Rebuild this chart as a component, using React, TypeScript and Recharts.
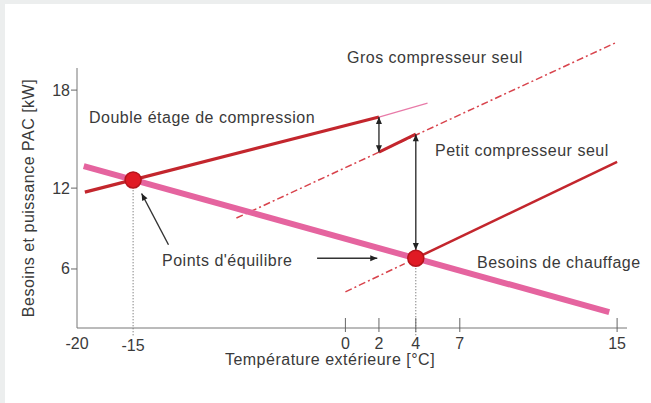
import React from 'react';
import {
  ComposedChart,
  Line,
  Scatter,
  XAxis,
  YAxis,
  ReferenceLine,
  Customized,
} from 'recharts';

// axis stops: the original schematic has uneven spacing between ticks
const xTickValues = [-20, -15, 0, 2, 4, 7, 15];
const xTickPlace = [0, 0.102, 0.488, 0.549, 0.616, 0.696, 0.982];
const yTickValues = [6, 12, 18];
const yTickPlace = [0.227, 0.538, 0.915];

// series, in [temperature °C, power kW]
const heatingNeeds = [[-19.4, 13.35], [14.6, 2.8]];
const doubleStage = [[-19.3, 11.7], [2, 16.35]];
const doubleStageExtension = [[2, 16.35], [4.8, 17.2]];
const smallCompressor = [[2, 14.2], [4, 15.3]];
const smallCompressorHigh = [[4, 6.8], [15, 13.6]];
const bigCompressorAlone = [[-7.7, 9.78], [15, 20.94]];
const smallCompressorAlone = [[0, 4.3], [3.4, 6.4]];
const equilibriumPoints = [[-15, 12.5], [4, 6.8]];

// annotation arrows [from, to]
const stepArrow = [[2, 16.35], [2, 14.2]];
const switchArrow = [[4, 15.3], [4, 7.4]];
const pointerArrows = [
  [[-12.5, 7.8], [-14.4, 11.6]],
  [[-2.0, 6.8], [1.9, 6.8]],
];

const FONT = '"Liberation Sans", Arial, sans-serif';
const TEXT = '#3a3a3a';
const PINK = '#e5649f';
const RED = '#c3262d';

const warp = (v: number, stops: number[], place: number[]) => {
  let i = 0;
  if (v >= stops[stops.length - 1]) i = stops.length - 2;
  else {
    while (i < stops.length - 2 && v > stops[i + 1]) i++;
  }
  const t = (v - stops[i]) / (stops[i + 1] - stops[i]);
  return place[i] + t * (place[i + 1] - place[i]);
};
const wx = (v: number) => warp(v, xTickValues, xTickPlace);
const wy = (v: number) => warp(v, yTickValues, yTickPlace);
const toPts = (arr: number[][]) => arr.map(([x, y]) => ({ x: wx(x), y: wy(y) }));

const closestLabel = (v: number, place: number[], values: number[]) => {
  let best = 0;
  place.forEach((p, i) => {
    if (Math.abs(p - v) < Math.abs(place[best] - v)) best = i;
  });
  return values[best];
};

const XTick = ({ x, y, payload }: any) => {
  const label = closestLabel(payload.value, xTickPlace, xTickValues);
  const showMark = label >= 0;
  return (
    <g>
      {showMark && <line x1={x} x2={x} y1={y - 10} y2={y + 4} stroke="#666" />}
      <text
        x={x}
        y={label === -15 ? y + 17 : y + 15}
        textAnchor="middle"
        dominantBaseline="central"
        fontFamily={FONT}
        fontSize={16}
        fill={TEXT}
      >
        {label}
      </text>
    </g>
  );
};

const YTick = ({ x, y, payload }: any) => {
  const label = closestLabel(payload.value, yTickPlace, yTickValues);
  return (
    <g>
      <line x1={x - 6} x2={x} y1={y} y2={y} stroke="#666" />
      <text
        x={x - 7}
        y={y}
        textAnchor="end"
        dominantBaseline="central"
        fontFamily={FONT}
        fontSize={16}
        fill={TEXT}
      >
        {label}
      </text>
    </g>
  );
};

const arrowHead = (x: number, y: number, ang: number, key: string) => {
  const len = 7;
  const half = 3;
  const bx = x - len * Math.cos(ang);
  const by = y - len * Math.sin(ang);
  const px = -Math.sin(ang) * half;
  const py = Math.cos(ang) * half;
  return (
    <polygon
      key={key}
      points={`${x},${y} ${bx + px},${by + py} ${bx - px},${by - py}`}
      fill="#222"
    />
  );
};

const ArrowShape = ({ x1, y1, x2, y2, both }: any) => {
  const ang = Math.atan2(y2 - y1, x2 - x1);
  return (
    <g>
      <line x1={x1} y1={y1} x2={x2} y2={y2} stroke="#333" strokeWidth={1.4} />
      {arrowHead(x2, y2, ang, 'end')}
      {both && arrowHead(x1, y1, ang + Math.PI, 'start')}
    </g>
  );
};

const annotations = [
  { text: 'Gros compresseur seul', x: 347, y: 57 },
  { text: 'Double étage de compression', x: 89, y: 117 },
  { text: 'Petit compresseur seul', x: 435, y: 150 },
  { text: 'Besoins de chauffage', x: 477, y: 262 },
  { text: "Points d'équilibre", x: 162, y: 260 },
];

const Texts = () => (
  <g fontFamily={FONT} fontSize={16} fill={TEXT} letterSpacing={0.5}>
    {annotations.map((a) => (
      <text key={a.text} x={a.x} y={a.y} dominantBaseline="central">
        {a.text}
      </text>
    ))}
    <text x={330} y={359} textAnchor="middle" dominantBaseline="central">
      Température extérieure [°C]
    </text>
    <text
      x={28}
      y={198}
      textAnchor="middle"
      dominantBaseline="central"
      transform="rotate(-90 28 198)"
    >
      Besoins et puissance PAC [kW]
    </text>
  </g>
);

const Dot = ({ cx, cy }: any) => (
  <circle cx={cx} cy={cy} r={8} fill="#e01a24" stroke="#b5141c" strokeWidth={1.5} />
);

export default function App() {
  return (
    <div style={{ position: 'relative', width: 651, height: 403, background: '#eceeee' }}>
      <style>{'body{margin:0}'}</style>
      <div
        style={{ position: 'absolute', left: 5, top: 4, width: 646, height: 399, background: '#fff' }}
      />
      <div style={{ position: 'absolute', left: 0, top: 0 }}>
        <ComposedChart width={651} height={403} margin={{ top: 42, right: 24, bottom: 0, left: 0 }}>
          <XAxis
            type="number"
            dataKey="x"
            domain={[0, 1]}
            ticks={xTickPlace}
            interval={0}
            height={75}
            tickSize={0}
            tickMargin={0}
            tick={<XTick />}
            axisLine={{ stroke: '#777' }}
            allowDataOverflow
          />
          <YAxis
            type="number"
            dataKey="y"
            domain={[0, 1.1]}
            ticks={yTickPlace}
            interval={0}
            width={77}
            tickSize={0}
            tickMargin={0}
            tick={<YTick />}
            axisLine={false}
            allowDataOverflow
          />
          <ReferenceLine
            segment={[{ x: 0, y: 0 }, { x: 0, y: 1 }]}
            stroke="#777"
            ifOverflow="visible"
          />
          <ReferenceLine
            segment={[{ x: wx(-15), y: -0.028 }, { x: wx(-15), y: wy(12.5) }]}
            stroke="#555"
            strokeDasharray="1 2"
            ifOverflow="visible"
          />
          <ReferenceLine
            segment={[{ x: wx(4), y: -0.028 }, { x: wx(4), y: wy(6.8) }]}
            stroke="#555"
            strokeDasharray="1 2"
            ifOverflow="visible"
          />
          <Line data={toPts(bigCompressorAlone)} dataKey="y" stroke="#d8434c" strokeWidth={1.5}
            strokeDasharray="7 3 2 3" dot={false} activeDot={false} isAnimationActive={false} />
          <Line data={toPts(smallCompressorAlone)} dataKey="y" stroke="#d8434c" strokeWidth={1.5}
            strokeDasharray="7 3 2 3" dot={false} activeDot={false} isAnimationActive={false} />
          <Line data={toPts(heatingNeeds)} dataKey="y" stroke={PINK} strokeWidth={6}
            dot={false} activeDot={false} isAnimationActive={false} />
          <Line data={toPts(doubleStageExtension)} dataKey="y" stroke="#e87aa8" strokeWidth={1.2}
            dot={false} activeDot={false} isAnimationActive={false} />
          <Line data={toPts(doubleStage)} dataKey="y" stroke={RED} strokeWidth={3.2}
            dot={false} activeDot={false} isAnimationActive={false} />
          <Line data={toPts(smallCompressor)} dataKey="y" stroke={RED} strokeWidth={3}
            dot={false} activeDot={false} isAnimationActive={false} />
          <Line data={toPts(smallCompressorHigh)} dataKey="y" stroke={RED} strokeWidth={2.5}
            dot={false} activeDot={false} isAnimationActive={false} />
          <ReferenceLine
            segment={toPts(stepArrow)}
            ifOverflow="visible"
            shape={(p: any) => <ArrowShape {...p} both />}
          />
          <ReferenceLine
            segment={toPts(switchArrow)}
            ifOverflow="visible"
            shape={(p: any) => <ArrowShape {...p} both />}
          />
          {pointerArrows.map((a, i) => (
            <ReferenceLine
              key={i}
              segment={toPts(a)}
              ifOverflow="visible"
              shape={(p: any) => <ArrowShape {...p} />}
            />
          ))}
          <Scatter data={toPts(equilibriumPoints)} dataKey="y" shape={<Dot />} isAnimationActive={false} />
          <Customized component={<Texts />} />
        </ComposedChart>
      </div>
    </div>
  );
}
